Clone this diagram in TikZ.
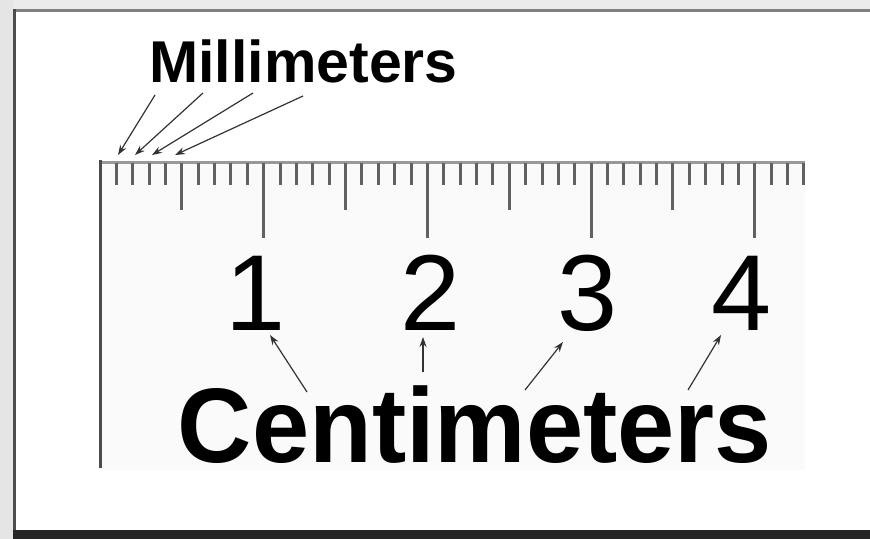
\documentclass[tikz,border=0pt]{standalone}
\usepackage{fontspec}
\setmainfont{Liberation Sans}
\usetikzlibrary{arrows.meta}
\tikzset{
  digit/.style={inner sep=0pt, anchor=base, font=\fontsize{54}{60}\selectfont},
  bigword/.style={inner sep=0pt, anchor=base, font=\bfseries\fontsize{53}{60}\selectfont},
  smallword/.style={inner sep=0pt, anchor=base, font=\bfseries\fontsize{29.5}{34}\selectfont},
  ptr/.style={-{Stealth[length=5pt,width=3.5pt]}, line width=0.6pt, black!80},
  tickmark/.style={line width=1.5pt, black!62},
}
\begin{document}
\begin{tikzpicture}[x=0.5pt,y=-0.5pt]
            \useasboundingbox (0,0) rectangle (870,539);

            % Frame of the picture
            \fill[white] (0,0) rectangle (870,539);
            \fill[black!8] (0,0) rectangle (870,9);
            \fill[black!10] (0,0) rectangle (13,539);
            \draw[black!50, line width=1.5pt] (13,10.5) -- (870,10.5);
            \draw[black!70, line width=1.5pt] (14.5,9) -- (14.5,539);
            \fill[black!85] (13,530) rectangle (870,539);

            % Ruler
            \fill[black!2] (100,163) rectangle (805,470);
            \draw[black!40, line width=1.5pt] (100,163) -- (805,163);
            \draw[black!70, line width=1.5pt] (100,160) -- (100,468);
            \foreach \i in {1,...,43}
                \draw[tickmark] (100+16.37*\i,163) -- ++(0,22);
            \foreach \i in {5,15,25,35}
                \draw[tickmark] (100+16.37*\i,163) -- ++(0,47);
            \foreach \i in {10,20,30,40}
                \draw[tickmark] (100+16.37*\i,163) -- ++(0,75);

            % Define nodes
            \node[smallword] (mm) at (303.5,83) {Millimeters};
            \node[digit] (d1) at (256,330) {1};
            \node[digit] (d2) at (431,330) {2};
            \node[digit] (d3) at (588,330) {3};
            \node[digit] (d4) at (742,330) {4};
            \node[bigword, xscale=0.97] (cm) at (475,462) {Centimeters};

            % Arrow ends
            \coordinate (ma1) at (155,95);
            \coordinate (ma2) at (203,93);
            \coordinate (ma3) at (253,93);
            \coordinate (ma4) at (303,96);
            \coordinate (mb1) at (118,155);
            \coordinate (mb2) at (135,155);
            \coordinate (mb3) at (152,155);
            \coordinate (mb4) at (175,155);
            \coordinate (ca1) at (307,392);
            \coordinate (ca2) at (423,372);
            \coordinate (ca3) at (525,390);
            \coordinate (ca4) at (688,390);
            \coordinate (cb1) at (270,335);
            \coordinate (cb2) at (423,337);
            \coordinate (cb3) at (563,342);
            \coordinate (cb4) at (721,335);

            % Draw arrows
            \draw[ptr] (ma1) -- (mb1);
            \draw[ptr] (ma2) -- (mb2);
            \draw[ptr] (ma3) -- (mb3);
            \draw[ptr] (ma4) -- (mb4);
            \draw[ptr] (ca1) -- (cb1);
            \draw[ptr] (ca2) -- (cb2);
            \draw[ptr] (ca3) -- (cb3);
            \draw[ptr] (ca4) -- (cb4);

        \end{tikzpicture}
\end{document}
